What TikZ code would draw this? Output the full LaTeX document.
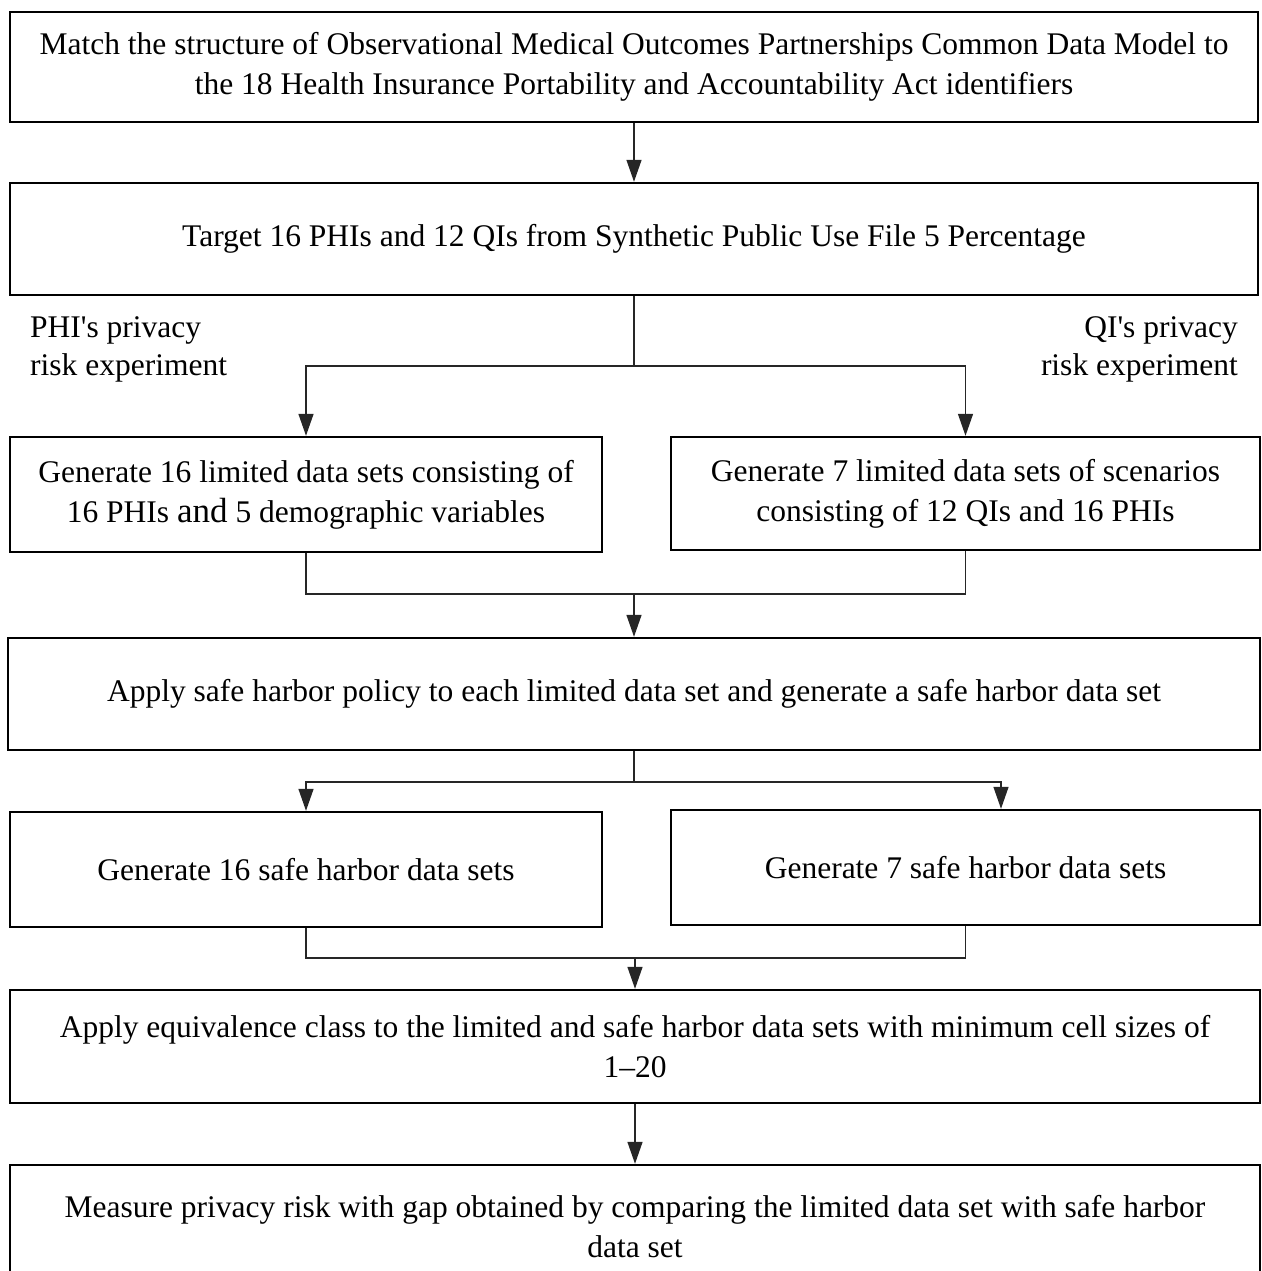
\documentclass[tikz,border=0pt]{standalone}
\usepackage{fontspec}
\setmainfont{Liberation Serif}[Ligatures=TeXOff]
\usetikzlibrary{arrows.meta,calc}
\begin{document}
\begin{tikzpicture}[x=1pt,y=-1pt,
  box/.style={draw=black,line width=2.4pt,rectangle,inner sep=0pt,align=center,
    font=\fontsize{31.5}{40}\selectfont},
  conn/.style={draw=black!85,line width=1.4pt},
  arr/.style={conn,-{Triangle[width=15pt,length=22pt]}},
  lbl/.style={font=\fontsize{31.5}{38}\selectfont,inner sep=0pt}
]
\useasboundingbox (0,0) rectangle (1261,1271);
\node[box,minimum width=1248pt,minimum height=110pt] (b1) at (634,67)
  {Match the structure of Observational Medical Outcomes Partnerships Common Data Model to\\ the 18 Health Insurance Portability and Accountability Act identifiers};
\node[box,minimum width=1248pt,minimum height=112pt] (b2) at (634,239)
  {Target 16 PHIs and 12 QIs from Synthetic Public Use File 5 Percentage};
\node[box,minimum width=592pt,minimum height=115pt] (b3l) at (306,494.5)
  {Generate 16 limited data sets consisting of\\ 16 PHIs {\fontsize{35}{40}\selectfont and} 5 demographic variables};
\node[box,minimum width=589pt,minimum height=113pt] (b3r) at (965.5,493.5)
  {Generate 7 limited data sets of scenarios\\ consisting of 12 QIs and 16 PHIs};
\node[box,minimum width=1252pt,minimum height=112pt] (b4) at (634,694)
  {Apply safe harbor policy to each limited data set and generate a safe harbor data set};
\node[box,minimum width=592pt,minimum height=115pt] (b5l) at (306,869.5)
  {Generate 16 safe harbor data sets};
\node[box,minimum width=589pt,minimum height=115pt] (b5r) at (965.5,867.5)
  {Generate 7 safe harbor data sets};
\node[box,minimum width=1250pt,minimum height=113pt] (b6) at (635,1046.5)
  {Apply equivalence class to the limited and safe harbor data sets with minimum cell sizes of\\ 1–20};
\node[box,minimum width=1250pt,minimum height=125pt,text depth=0pt] (b7) at (635,1227.5)
  {\raisebox{26pt}{\parbox{1240pt}{\centering Measure privacy risk with gap obtained by comparing the limited data set with safe harbor\\ data set}}};
\node[lbl,anchor=north west,align=left] (l1) at (30,316) {PHI's privacy\\ risk experiment};
\node[lbl,anchor=north east,align=right] (l2) at (1238,316) {QI's privacy\\ risk experiment};
\coordinate (j1) at (634,366);
\coordinate (j2) at (634,594);
\coordinate (j3) at (634,782);
\coordinate (j4) at (635,958);
\draw[arr] (b1.south) -- (b2.north);
\draw[conn] (b2.south) -- (j1);
\draw[arr] (j1) -| (b3l.north);
\draw[arr] (j1) -| (b3r.north);
\draw[conn] (b3l.south) |- (j2);
\draw[conn] (b3r.south) |- (j2);
\draw[arr] (j2) -- (b4.north);
\draw[conn] (b4.south) -- (j3);
\draw[arr] (j3) -| (b5l.north);
\draw[arr] (j3) -| ($(b5r.north)+(35.5,0)$);
\draw[conn] (b5l.south) |- (j4);
\draw[conn] (b5r.south) |- (j4);
\draw[arr] (j4) -- (b6.north);
\draw[arr] (b6.south) -- (b7.north);
\end{tikzpicture}
\end{document}
